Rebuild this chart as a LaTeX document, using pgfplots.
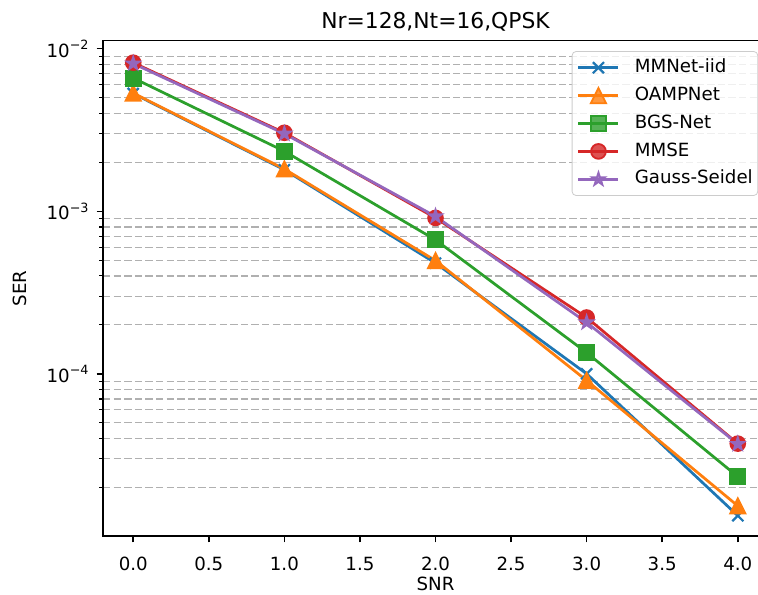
\documentclass[border=0pt]{standalone}
\usepackage{fontspec}
\setmainfont{DejaVu Sans}
\usepackage{pgfplots}
\pgfplotsset{compat=1.18}
\definecolor{c0}{HTML}{1F77B4}
\definecolor{c1}{HTML}{FF7F0E}
\definecolor{c2}{HTML}{2CA02C}
\definecolor{c3}{HTML}{D62728}
\definecolor{c4}{HTML}{9467BD}
\definecolor{gridgray}{HTML}{B0B0B0}
\pgfdeclareplotmark{mtri}{%
  \pgfpathmoveto{\pgfqpoint{0pt}{\pgfplotmarksize}}%
  \pgfpathlineto{\pgfqpoint{-\pgfplotmarksize}{-\pgfplotmarksize}}%
  \pgfpathlineto{\pgfqpoint{\pgfplotmarksize}{-\pgfplotmarksize}}%
  \pgfpathclose\pgfusepathqfillstroke}
\pgfdeclareplotmark{fstar}{%
  \pgfpathmoveto{\pgfqpointpolar{90}{\pgfplotmarksize}}%
  \pgfpathlineto{\pgfqpointpolar{126}{0.382\pgfplotmarksize}}%
  \pgfpathlineto{\pgfqpointpolar{162}{\pgfplotmarksize}}%
  \pgfpathlineto{\pgfqpointpolar{198}{0.382\pgfplotmarksize}}%
  \pgfpathlineto{\pgfqpointpolar{234}{\pgfplotmarksize}}%
  \pgfpathlineto{\pgfqpointpolar{270}{0.382\pgfplotmarksize}}%
  \pgfpathlineto{\pgfqpointpolar{306}{\pgfplotmarksize}}%
  \pgfpathlineto{\pgfqpointpolar{342}{0.382\pgfplotmarksize}}%
  \pgfpathlineto{\pgfqpointpolar{18}{\pgfplotmarksize}}%
  \pgfpathlineto{\pgfqpointpolar{54}{0.382\pgfplotmarksize}}%
  \pgfpathclose\pgfusepathqfillstroke}
\begin{document}
\begin{tikzpicture}[font=\fontsize{9.1}{11}\selectfont]
\begin{axis}[
  at={(51.5pt,29pt)}, anchor=south west,
  scale only axis, width=332.5pt, height=247.65pt,
  ymode=log,
  xmin=-0.2, xmax=4.2, ymin=1.005e-5, ymax=1.12e-2,
  xtick={0,0.5,1,1.5,2,2.5,3,3.5,4},
  xticklabel style={yshift=-4pt, /pgf/number format/.cd, fixed, fixed zerofill, precision=1, assume math mode=true},
  ytick={1e-4,1e-3,1e-2},
  yticklabels={10\textsuperscript{−4},10\textsuperscript{−3},10\textsuperscript{−2}},
  minor ytick={2e-5,3e-5,4e-5,5e-5,6e-5,7e-5,8e-5,9e-5,2e-4,3e-4,4e-4,5e-4,6e-4,7e-4,8e-4,9e-4,2e-3,3e-3,4e-3,5e-3,6e-3,7e-3,8e-3,9e-3},
  tick pos=left,
  tick align=outside,
  major tick length=3.2pt,
  minor tick length=1.8pt,
  every tick/.style={black, line width=0.73pt},
  minor tick style={black, line width=0.55pt},
  axis line style={line width=0.73pt},
  ymajorgrids=false, yminorgrids=true,
  minor grid style={gridgray, dash pattern=on 3.7pt off 1.6pt, line width=0.6pt},
  title={Nr=128,Nt=16,QPSK},
  title style={at={(0.5,1)}, anchor=base, yshift=0.2pt, inner sep=0pt, font=\fontsize{10.9}{13}\selectfont},
  xlabel={SNR},
  xlabel style={at={(axis description cs:0.5,0)}, anchor=base, yshift=-27pt, inner sep=0pt},
  ylabel={SER},
  ylabel style={at={(axis description cs:0,0.5)}, anchor=base, yshift=38pt, inner sep=0pt},
  legend style={at={(0.7048,0.979)}, anchor=north west, draw=black!20, rounded corners=2pt,
    fill=white, fill opacity=0.8, text opacity=1, inner xsep=2.5pt, inner ysep=3.6pt,
    row sep=4.95pt, column sep=7.5pt,
    nodes={inner sep=0pt, text height=6.8pt, text depth=2.2pt}},
  legend cell align=left,
  legend image code/.code={\draw[mark repeat=2,mark phase=2] plot coordinates {(0pt,0pt) (10pt,0pt) (20pt,0pt)};},
  every axis plot/.append style={line width=1.37pt},
]
\addplot[c0, mark=x, mark size=3.9pt, mark options={line width=1.1pt, solid}] coordinates {
  (0,5.3e-3) (1,1.8e-3) (2,4.8e-4) (3,1.0e-4) (4,1.34e-5)};
\addlegendentry{MMNet-iid}
\addplot[c1, mark=mtri, mark size=3.8pt, mark options={fill=c1, line width=0.9pt, solid}] coordinates {
  (0,5.33e-3) (1,1.82e-3) (2,4.97e-4) (3,9.1e-5) (4,1.54e-5)};
\addlegendentry{OAMPNet}
\addplot[c2, mark=square*, mark size=3.8pt, mark options={fill=c2, line width=0.9pt, solid}] coordinates {
  (0,6.6e-3) (1,2.34e-3) (2,6.67e-4) (3,1.35e-4) (4,2.33e-5)};
\addlegendentry{BGS-Net}
\addplot[c3, mark=*, mark size=3.7pt, mark options={fill=c3, line width=0.9pt, solid}] coordinates {
  (0,8.2e-3) (1,3.04e-3) (2,9.1e-4) (3,2.22e-4) (4,3.72e-5)};
\addlegendentry{MMSE}
\addplot[c4, mark=fstar, mark size=3.4pt, mark options={fill=c4, line width=0.9pt, solid}] coordinates {
  (0,8.1e-3) (1,3.0e-3) (2,9.3e-4) (3,2.07e-4) (4,3.7e-5)};
\addlegendentry{Gauss-Seidel}
\end{axis}
\pgfresetboundingbox
\path[use as bounding box] (0,0) rectangle (379pt,297pt);
\end{tikzpicture}
\end{document}
